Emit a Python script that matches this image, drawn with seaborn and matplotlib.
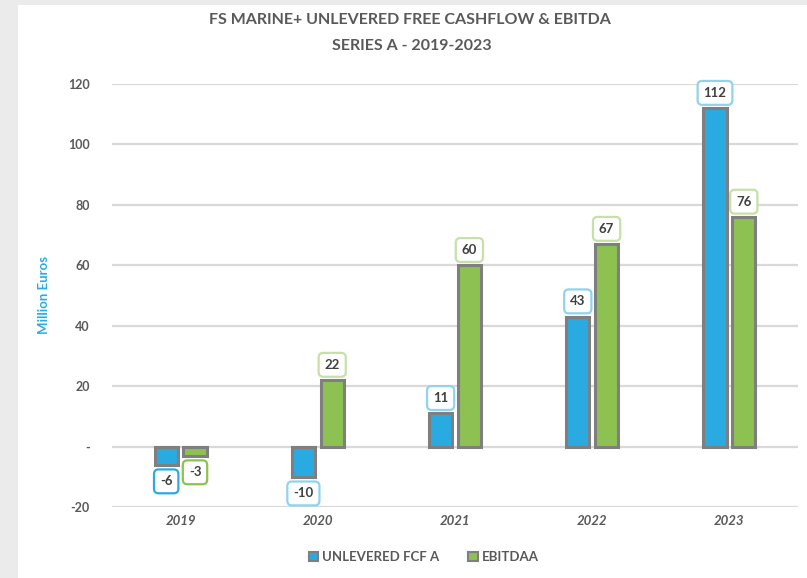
import matplotlib
matplotlib.use("Agg")
import matplotlib.pyplot as plt
from matplotlib.patches import Rectangle, Patch
import pandas as pd
import seaborn as sns

years = ["2019", "2020", "2021", "2022", "2023"]
fcf_values = [-6, -10, 11, 43, 112]
ebitda_values = [-3, 22, 60, 67, 76]
series_names = ["UNLEVERED FCF A", "EBITDAA"]
y_ticks = [-20, 0, 20, 40, 60, 80, 100, 120]
y_tick_labels = ["-20", "-", "20", "40", "60", "80", "100", "120"]

BLUE = "#29abe2"
GREEN = "#8dc152"
EDGE = "#7f7f7f"
TEXT = "#595959"
LABEL_TXT = "#404040"

df = pd.DataFrame({
    "year": years * 2,
    "value": fcf_values + ebitda_values,
    "series": [series_names[0]] * len(years) + [series_names[1]] * len(years),
})

sns.set_theme(style="white")
plt.rcParams["font.family"] = ["Liberation Sans Narrow", "Lato", "DejaVu Sans"]

fig = plt.figure(figsize=(8.07, 5.78), dpi=100, facecolor="#ebebeb")
fig.patches.append(Rectangle((18 / 807, 0), 1, 1 - 5 / 578, transform=fig.transFigure,
                             facecolor="white", edgecolor="none", zorder=-5))
ax = fig.add_axes([112 / 807, 1 - 507 / 578, 686 / 807, 423 / 578])
ax.set_facecolor("none")

sns.barplot(data=df, x="year", y="value", hue="series", palette=[BLUE, GREEN],
            saturation=1, width=0.42, gap=0.2, edgecolor=EDGE, linewidth=2.2, ax=ax,
            legend=False, zorder=3)

ax.set_ylim(-20, 120)
ax.set_yticks(y_ticks)
ax.set_yticklabels(y_tick_labels)
ax.yaxis.grid(True, color="#d9d9d9", linewidth=1.6, zorder=0)
ax.set_axisbelow(True)
for s in ax.spines.values():
    s.set_visible(False)
ax.tick_params(axis="y", length=0, pad=16, labelsize=9, labelcolor=TEXT)
ax.tick_params(axis="x", length=0, pad=6, labelsize=9.5, labelcolor=TEXT)
for t in ax.get_yticklabels():
    t.set_fontweight("bold")
for t in ax.get_xticklabels():
    t.set_fontweight("bold")
    t.set_fontstyle("italic")
ax.set_xlabel("")
ax.set_ylabel("Million Euros", color=BLUE, fontsize=9.5, fontweight="bold")
ax.yaxis.set_label_coords(-0.09, 0.5)

# data labels in rounded boxes
box_edges = {0: ["#29abe2", "#8fd3f0", "#8fd3f0", "#8fd3f0", "#8fd3f0"],
             1: ["#8dc152", "#c6e0a8", "#c6e0a8", "#c6e0a8", "#c6e0a8"]}
for i, container in enumerate(ax.containers):
    for j, bar in enumerate(container):
        v = bar.get_height()
        cx = bar.get_x() + bar.get_width() / 2
        off = 11 if v >= 0 else -12
        ax.annotate(f"{v:g}", (cx, v), xytext=(0, off), textcoords="offset points",
                    ha="center", va="center", fontsize=9.5, fontweight="bold",
                    color=LABEL_TXT, zorder=5,
                    bbox=dict(boxstyle="round,pad=0.45,rounding_size=0.35",
                              facecolor="white", edgecolor=box_edges[i][j], linewidth=1.6))

fig.text(0.508, 1 - 20 / 578, "FS MARINE+ UNLEVERED FREE CASHFLOW & EBITDA",
         ha="center", va="center", fontsize=11.5, fontweight="bold", color=TEXT)
fig.text(0.51, 1 - 46 / 578, "SERIES A - 2019-2023",
         ha="center", va="center", fontsize=11.5, fontweight="bold", color=TEXT)

handles = [Patch(facecolor=BLUE, edgecolor=EDGE, linewidth=1.5),
           Patch(facecolor=GREEN, edgecolor=EDGE, linewidth=1.5)]
leg = fig.legend(handles, series_names, loc="center", bbox_to_anchor=(0.525, 1 - 557 / 578),
                 ncol=2, frameon=False, fontsize=9.5, handlelength=0.7, handleheight=0.7,
                 handletextpad=0.3, columnspacing=2.2, labelcolor=TEXT)
for t in leg.get_texts():
    t.set_fontweight("bold")

fig.savefig("out.png", dpi=100, facecolor=fig.get_facecolor())
